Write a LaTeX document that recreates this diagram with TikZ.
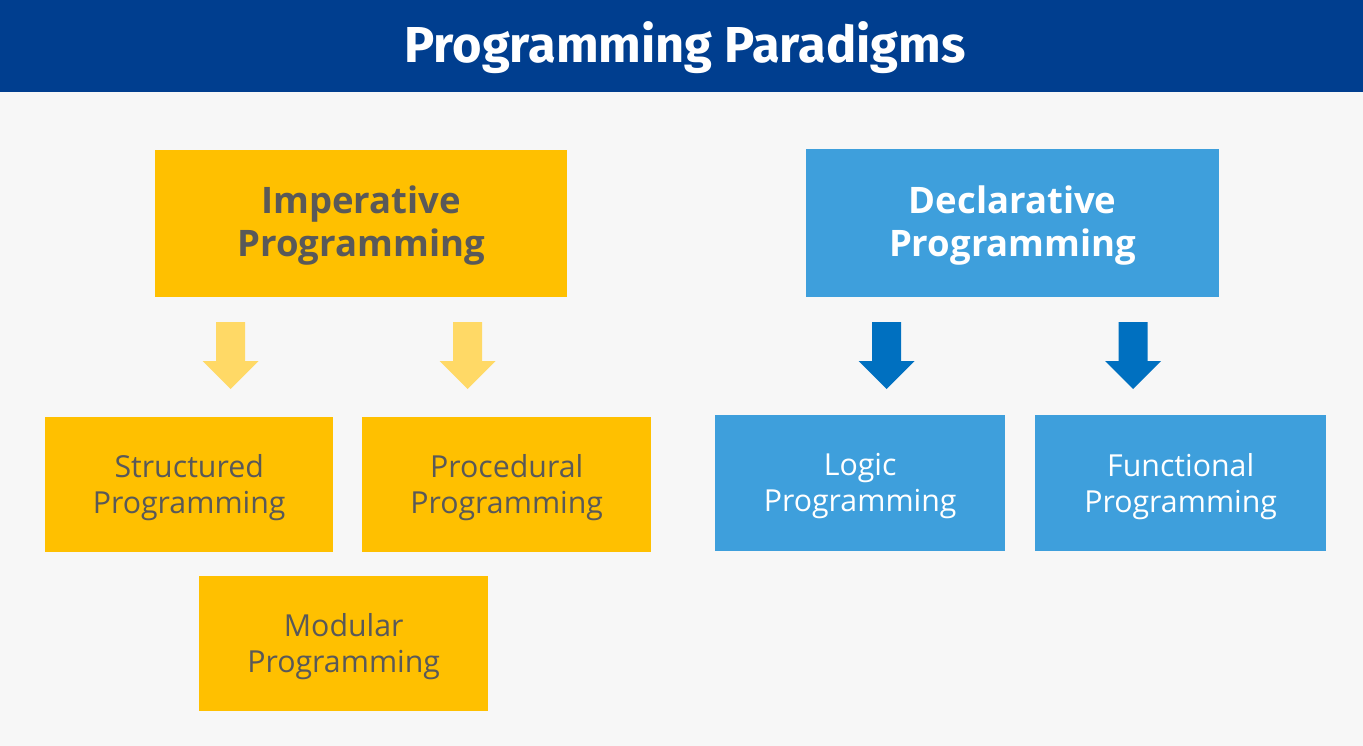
\documentclass[tikz,border=0pt]{standalone}
\usepackage{fontspec}
\setmainfont{Open Sans}
\newfontfamily\titlefont{Fira Sans}
\definecolor{bgc}{HTML}{F7F7F7}
\definecolor{barc}{HTML}{003E8F}
\definecolor{yelc}{HTML}{FFC000}
\definecolor{lyelc}{HTML}{FFD966}
\definecolor{bluc}{HTML}{3E9FDC}
\definecolor{dbluc}{HTML}{0070C0}
\definecolor{txtc}{HTML}{595959}
\begin{document}
\begin{tikzpicture}[x=1pt,y=-1pt,
  box/.style={inner sep=0pt,align=center,anchor=north west},
  bigtext/.style={font=\fontsize{36.5}{43}\selectfont\bfseries,yshift=-2pt},
  smalltext/.style={font=\fontsize{30.3}{36}\selectfont,yshift=-3pt},
  yarrow/.style={fill=lyelc,draw=none},
  barrow/.style={fill=dbluc,draw=none}]
\useasboundingbox (0,0) rectangle (1363,746);
\fill[bgc] (0,0) rectangle (1363,746);
\fill[barc] (0,0) rectangle (1363,92);
\node[text=white,font=\titlefont\fontsize{50.5}{60}\selectfont\bfseries] (title) at (685,48) {Programming Paradigms};
% main boxes
\node[box,fill=yelc,minimum width=412pt,minimum height=147pt] (imp) at (155,150) {};
\node[text=txtc,bigtext,align=center] (impt) at (imp.center) {Imperative\\Programming};
\node[box,fill=bluc,minimum width=413pt,minimum height=148pt] (dec) at (806,149) {};
\node[text=white,bigtext,align=center] (dect) at (dec.center) {Declarative\\Programming};
% sub boxes
\node[box,fill=yelc,minimum width=288pt,minimum height=135pt] (str) at (45,417) {};
\node[text=txtc,smalltext,align=center] at (str.center) {Structured\\Programming};
\node[box,fill=yelc,minimum width=289pt,minimum height=135pt] (proc) at (362,417) {};
\node[text=txtc,smalltext,align=center] at (proc.center) {Procedural\\Programming};
\node[box,fill=yelc,minimum width=289pt,minimum height=135pt] (mod) at (199,576) {};
\node[text=txtc,smalltext,align=center] at (mod.center) {Modular\\Programming};
\node[box,fill=bluc,minimum width=290pt,minimum height=136pt] (log) at (715,415) {};
\node[text=white,smalltext,align=center] at (log.center) {Logic\\Programming};
\node[box,fill=bluc,minimum width=291pt,minimum height=136pt] (fun) at (1035,415) {};
\node[text=white,smalltext,align=center] at (fun.center) {Functional\\Programming};
% block arrows
\foreach \cx/\sty in {230.5/yarrow,467.5/yarrow,886.5/barrow,1133/barrow}{
  \fill[\sty] (\cx-14.5,322) -- (\cx+14.5,322) -- (\cx+14.5,361) -- (\cx+28,361)
    -- (\cx,389) -- (\cx-28,361) -- (\cx-14.5,361) -- cycle;
}
\end{tikzpicture}
\end{document}
